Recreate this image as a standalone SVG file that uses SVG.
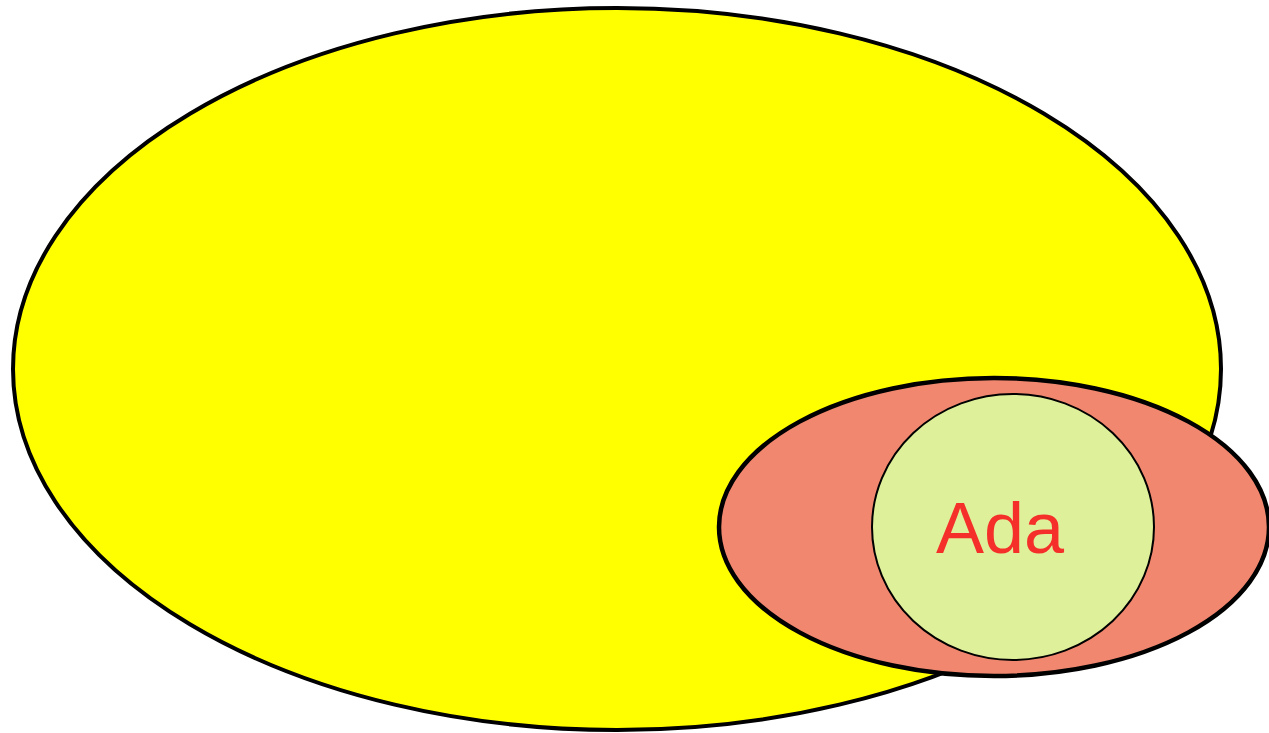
<svg xmlns="http://www.w3.org/2000/svg" width="1269" height="733" viewBox="0 0 1269 733">
<style>
.s{stroke:#000;}
.lbl{font-family:"Liberation Sans",Arial,sans-serif;font-size:72px;fill:#f5302a;text-anchor:middle;}
</style>
<rect width="1269" height="733" fill="#fff"/>
<g id="outer">
<ellipse class="s" cx="617" cy="369" rx="604" ry="361" fill="#ffff00" stroke-width="4"/>
</g>
<g id="middle">
<ellipse class="s" cx="994" cy="527" rx="275" ry="149" fill="#f2876f" stroke-width="4.5"/>
</g>
<g id="ada">
<ellipse class="s" cx="1013" cy="527" rx="141" ry="133" fill="#dff09b" stroke-width="2"/>
<text class="lbl" x="1000" y="553">Ada</text>
</g>
<g id="connectors"/>
</svg>
